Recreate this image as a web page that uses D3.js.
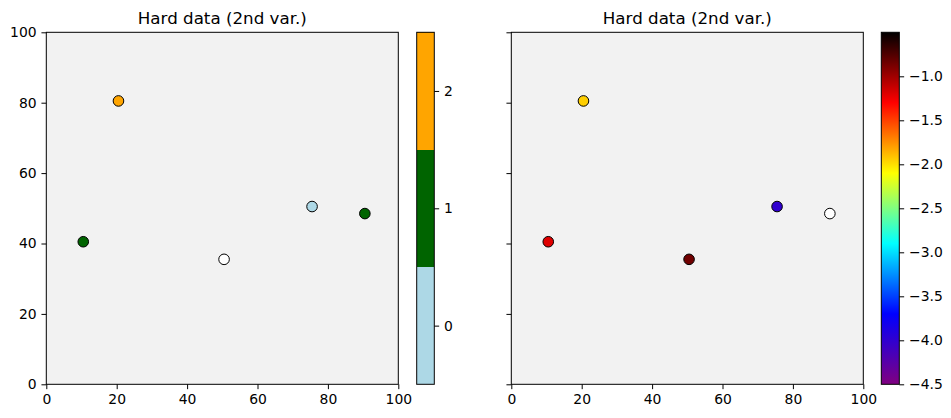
<!DOCTYPE html>
<html><head><meta charset="utf-8">
<script src="https://cdn.jsdelivr.net/npm/d3@7"></script>
<style>body{margin:0;background:#fff}svg{display:block}text{font-family:"DejaVu Sans",sans-serif;fill:#000}</style>
</head><body><svg id="c" width="951" height="418"></svg>
<script>
const xs = [10.5, 20.5, 50.5, 75.5, 90.5];
const ys = [40.5, 80.5, 35.5, 50.5, 48.5];
const catValues = [1, 2, null, 0, 1];
const contValues = [-1.2, -1.95, -0.85, -4.0, null];
const catColors = ["lightblue", "darkgreen", "orange"];
const catTicks = [0, 1, 2];
const contTicks = [-4.5, -4.0, -3.5, -3.0, -2.5, -2.0, -1.5, -1.0];
const contDomain = [-4.5, -0.5];
const cmapColors = ["purple", "blue", "cyan", "yellow", "red", "black"];
const axisTicks = [0, 20, 40, 60, 80, 100];
const title = "Hard data (2nd var.)";

const svg = d3.select("#c");
const fs = 13.9, tl = 4.86, pad = 4.86;
const fmtMinus = v => (v < 0 ? "\u2212" : "") + Math.abs(v).toFixed(1);

const yTop = 32.3, yBottom = 384.3;
const contScale = d3.scaleLinear()
  .domain(cmapColors.map((c, i) => contDomain[0] + i * (contDomain[1] - contDomain[0]) / (cmapColors.length - 1)))
  .range(cmapColors.map(c => d3.color(c).formatHex()))
  .interpolate(d3.interpolateRgb);

function panel(x0, x1, showY, colorFn, vals) {
  const g = svg.append("g");
  const x = d3.scaleLinear().domain([0, 100]).range([x0, x1]);
  const y = d3.scaleLinear().domain([0, 100]).range([yBottom, yTop]);
  g.append("rect").attr("x", x0).attr("y", yTop).attr("width", x1 - x0).attr("height", yBottom - yTop).attr("fill", "#f2f2f2");
  g.append("text").attr("x", (x0 + x1) / 2).attr("y", yTop - 8.5).attr("text-anchor", "middle").attr("font-size", 16.7).text(title);
  xs.forEach((xv, i) => {
    const v = vals[i];
    g.append("circle").attr("cx", x(xv)).attr("cy", y(ys[i])).attr("r", 5.3)
      .attr("fill", v === null ? "#ffffff" : colorFn(v)).attr("stroke", "#000").attr("stroke-width", 1);
  });
  g.append("rect").attr("x", x0).attr("y", yTop).attr("width", x1 - x0).attr("height", yBottom - yTop)
    .attr("fill", "none").attr("stroke", "#000").attr("stroke-width", 1);
  const xa = g.append("g").attr("transform", `translate(0,${yBottom})`)
    .call(d3.axisBottom(x).tickValues(axisTicks).tickSize(tl).tickPadding(pad).tickFormat(d3.format("d")));
  const ya = g.append("g").attr("transform", `translate(${x0},0)`)
    .call(d3.axisLeft(y).tickValues(axisTicks).tickSize(tl).tickPadding(pad).tickFormat(showY ? d3.format("d") : ""));
  [xa, ya].forEach(a => { a.select(".domain").remove(); a.selectAll("text").attr("font-size", fs).attr("font-family", "DejaVu Sans"); a.selectAll("line").attr("stroke", "#000"); });
}

// Left panel (categorical)
panel(46.3, 398.3, true, v => catColors[v], catValues);
// Right panel (continuous)
panel(511.3, 863.3, false, v => contScale(v), contValues);

// Categorical colorbar
{
  const cx0 = 416.7, cw = 17.6;
  const cy = d3.scaleLinear().domain([-0.5, 2.5]).range([yBottom, yTop]);
  const g = svg.append("g");
  catColors.forEach((c, i) => {
    g.append("rect").attr("x", cx0).attr("y", cy(i + 0.5)).attr("width", cw).attr("height", cy(i - 0.5) - cy(i + 0.5)).attr("fill", c).attr("shape-rendering", "crispEdges");
  });
  g.append("rect").attr("x", cx0).attr("y", yTop).attr("width", cw).attr("height", yBottom - yTop).attr("fill", "none").attr("stroke", "#000");
  const a = g.append("g").attr("transform", `translate(${cx0 + cw},0)`)
    .call(d3.axisRight(cy).tickValues(catTicks).tickSize(tl).tickPadding(pad).tickFormat(d3.format("d")));
  a.select(".domain").remove(); a.selectAll("text").attr("font-size", fs).attr("font-family", "DejaVu Sans");
}

// Continuous colorbar
{
  const cx0 = 881.3, cw = 18;
  const cy = d3.scaleLinear().domain(contDomain).range([yBottom, yTop]);
  const defs = svg.append("defs");
  const grad = defs.append("linearGradient").attr("id", "cg").attr("x1", 0).attr("y1", 1).attr("x2", 0).attr("y2", 0);
  d3.range(0, 1.0001, 0.05).forEach(t => {
    grad.append("stop").attr("offset", t).attr("stop-color", contScale(contDomain[0] + t * (contDomain[1] - contDomain[0])));
  });
  const g = svg.append("g");
  g.append("rect").attr("x", cx0).attr("y", yTop).attr("width", cw).attr("height", yBottom - yTop).attr("fill", "url(#cg)");
  g.append("rect").attr("x", cx0).attr("y", yTop).attr("width", cw).attr("height", yBottom - yTop).attr("fill", "none").attr("stroke", "#000");
  const a = g.append("g").attr("transform", `translate(${cx0 + cw},0)`)
    .call(d3.axisRight(cy).tickValues(contTicks).tickSize(tl).tickPadding(pad).tickFormat(fmtMinus));
  a.select(".domain").remove(); a.selectAll("text").attr("font-size", fs).attr("font-family", "DejaVu Sans");
}
</script></body></html>
